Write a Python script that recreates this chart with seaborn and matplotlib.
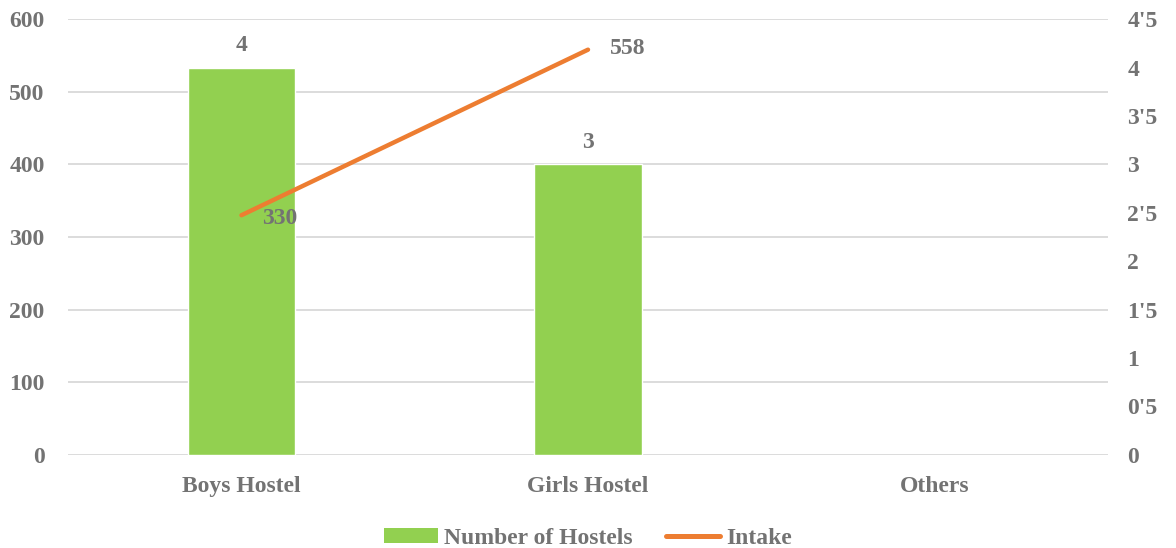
import numpy as np
import pandas as pd
import seaborn as sns
import matplotlib.pyplot as plt
from matplotlib.ticker import FuncFormatter, MultipleLocator
from matplotlib.patches import Patch
from matplotlib.lines import Line2D

categories = ['Boys Hostel', 'Girls Hostel', 'Others']
hostels = [4, 3, np.nan]
intake = [330, 558, np.nan]

grey = '#737373'
green = '#92D050'
orange = '#ED7D31'
fs = 17

sns.set_style('white')
plt.rcParams['font.family'] = ['Liberation Serif', 'DejaVu Serif']
plt.rcParams['font.weight'] = 'bold'

fig = plt.figure(figsize=(11.76, 5.48), dpi=100)
ax = fig.add_axes([0.058, 0.170, 0.884, 0.795])
ax2 = ax.twinx()
ax3 = ax.twinx()

df = pd.DataFrame({'cat': categories, 'hostels': hostels, 'intake': intake,
                   'pos': np.arange(len(categories))})

# bars on the right-hand scale
sns.barplot(data=df, x='cat', y='hostels', ax=ax2, color=green, width=0.31,
            saturation=1)
for c in ax2.containers:
    labels = ['' if np.isnan(v) else f'{v:g}' for v in c.datavalues]
    ax2.bar_label(c, labels=labels, padding=8, fontsize=fs, color=grey,
                  fontweight='bold')
ax2.set_ylim(0, 4.5)
ax2.yaxis.set_major_locator(MultipleLocator(0.5))
ax2.yaxis.set_major_formatter(FuncFormatter(lambda v, p: f'{v:g}'.replace('.', "'")))

# line on the left-hand scale
sns.lineplot(data=df, x='pos', y='intake', ax=ax3, color=orange, linewidth=3.2,
             solid_capstyle='round')
ax3.set_ylim(0, 600)
for _, r in df.dropna().iterrows():
    off = (15, -2) if r['intake'] < 400 else (16, 1)
    ax3.annotate(f"{r['intake']:g}", (r['pos'], r['intake']), xytext=off,
                 textcoords='offset points', ha='left', va='center',
                 fontsize=fs, color=grey, fontweight='bold')
ax3.axis('off')

ax.set_ylim(0, 600)
ax.yaxis.set_major_locator(MultipleLocator(100))
ax.grid(axis='y', color='#d9d9d9', linewidth=1.3)
for a in (ax, ax2, ax3):
    a.set_xlim(-0.5, 2.5)
    a.set_xlabel('')
    a.set_ylabel('')
    for s in a.spines.values():
        s.set_visible(False)
    a.tick_params(length=0, labelsize=fs, labelcolor=grey)
ax.set_xticks(range(len(categories)))
ax.set_xticklabels(categories)
ax.tick_params(axis='y', pad=17)
ax.tick_params(axis='x', pad=15)
ax2.tick_params(axis='y', pad=14)
for lab in ax.get_xticklabels() + ax.get_yticklabels() + ax2.get_yticklabels():
    lab.set_fontweight('bold')

handles = [Patch(facecolor=green, edgecolor='none'),
           Line2D([], [], color=orange, linewidth=3.6, solid_capstyle='round')]
leg = fig.legend(handles, ['Number of Hostels', 'Intake'], loc='center',
                 bbox_to_anchor=(0.5, 0.017), ncol=2, frameon=False,
                 fontsize=fs, handlelength=2.3, handleheight=0.6,
                 columnspacing=1.4, handletextpad=0.25)
for t in leg.get_texts():
    t.set_color(grey)
    t.set_fontweight('bold')

fig.savefig('out.png', dpi=100)
